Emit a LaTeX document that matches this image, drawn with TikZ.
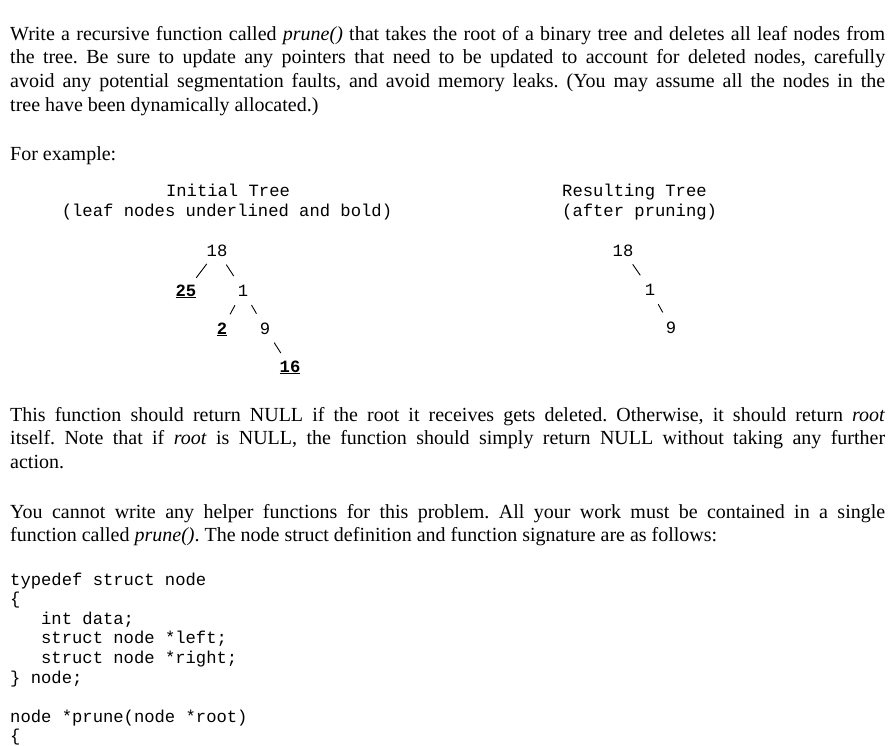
\documentclass[tikz,border=0pt]{standalone}
\usepackage{fontspec}
\setmainfont{Liberation Serif}
\setmonofont{Liberation Mono}
\usetikzlibrary{positioning}
\frenchspacing

\begin{document}
\begin{tikzpicture}[
  x=1pt, y=-1pt,
  prose/.style={anchor=base west, inner sep=0, text width=875pt, align=justify, font=\fontsize{20}{23.8}\selectfont},
  heading/.style={anchor=base, inner sep=0, font=\ttfamily\fontsize{17.2}{19.6}\selectfont},
  num/.style={anchor=base, inner sep=0, font=\ttfamily\fontsize{17.2}{19.6}\selectfont},
  leaf/.style={num, font=\ttfamily\bfseries\fontsize{17.2}{19.6}\selectfont},
  branch/.style={draw, line width=0.9pt, shorten <=17pt, shorten >=17pt},
  code/.style={anchor=base west, inner sep=0, text width=400pt, align=left, font=\ttfamily\fontsize{17.2}{19.6}\selectfont, execute at begin node={\spaceskip=0pt\xspaceskip=0pt\relax}},
]
  \useasboundingbox[fill=white] (0,0) rectangle (895,745);

  % Problem text
  \node[prose] (intro) at (10,40) {Write a recursive function called \textit{prune()} that takes the root of a binary tree and deletes all leaf nodes from\linebreak the tree. Be sure to update any pointers that need to be updated to account for deleted nodes, carefully\linebreak avoid any potential segmentation faults, and avoid memory leaks. (You may assume all the nodes in the\linebreak tree have been dynamically allocated.)};
  \node[prose] (example) at (10,160) {For example:};

  % Headings
  \node[heading] (initial) at (228,196) {Initial Tree};
  \node[heading] (initialnote) at (227,216) {(leaf nodes underlined and bold)};
  \node[heading, anchor=base west] (result) at (562,196) {Resulting Tree};
  \node[heading, anchor=base west] (resultnote) at (562,216) {(after pruning)};

  % Initial tree
  \node[num] (n18) at (217,256) {18};
  \node[leaf] (n25) at (186,296) {\underline{25}};
  \node[num] (n1) at (243,296) {1};
  \node[leaf] (n2) at (222,334) {\underline{2}};
  \node[num] (n9) at (265,334) {9};
  \node[leaf] (n16) at (290,372) {\underline{16}};
  \draw[branch] (n18.center) -- (n25.center);
  \draw[branch] (n18.center) -- (n1.center);
  \draw[branch] (n1.center) -- (n2.center);
  \draw[branch] (n1.center) -- (n9.center);
  \draw[branch] (n9.center) -- (n16.center);

  % Resulting tree
  \node[num] (r18) at (623,256) {18};
  \node[num] (r1) at (650,295) {1};
  \node[num] (r9) at (671,333) {9};
  \draw[branch] (r18.center) -- (r1.center);
  \draw[branch] (r1.center) -- (r9.center);

  % More text
  \node[prose] (retnote) at (10,421) {This function should return NULL if the root it receives gets deleted. Otherwise, it should return \textit{root}\linebreak itself. Note that if \textit{root} is NULL, the function should simply return NULL without taking any further\linebreak action.};
  \node[prose] (rules) at (10,518) {You cannot write any helper functions for this problem. All your work must be contained in a single\linebreak function called \textit{prune()}. The node struct definition and function signature are as follows:};

  % Code
  \node[code] (decl) at (10,585) {typedef struct node\\\{\\\ \ \ int data;\\\ \ \ struct node *left;\\\ \ \ struct node *right;\\\} node;};
  \node[code] (sig) at (10,722) {node *prune(node *root)\\\{};
\end{tikzpicture}
\end{document}
